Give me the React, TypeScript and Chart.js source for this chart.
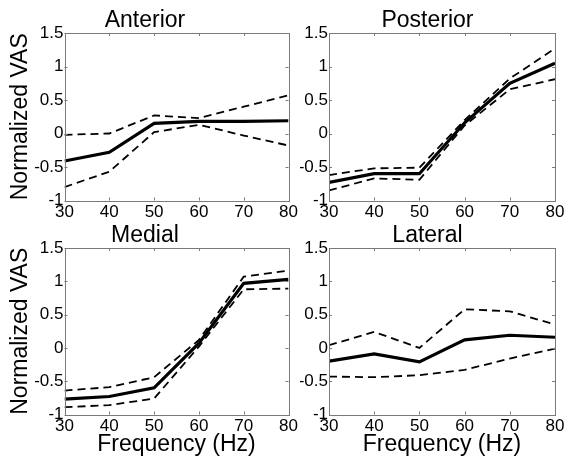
import React, { useEffect, useRef } from "react";
import { Chart, registerables } from "chart.js";
Chart.register(...registerables);

const frequencies = [30, 40, 50, 60, 70, 80];
const yTicks = [-1, -0.5, 0, 0.5, 1, 1.5];
const xTicks = [30, 40, 50, 60, 70, 80];

const anteriorMean = [-0.41, -0.28, 0.15, 0.18, 0.18, 0.19];
const anteriorUpper = [-0.02, 0.0, 0.27, 0.23, 0.4, 0.57];
const anteriorLower = [-0.8, -0.57, 0.02, 0.13, -0.03, -0.18];

const posteriorMean = [-0.73, -0.6, -0.6, 0.16, 0.75, 1.05];
const posteriorUpper = [-0.62, -0.52, -0.51, 0.2, 0.82, 1.27];
const posteriorLower = [-0.85, -0.67, -0.69, 0.12, 0.66, 0.81];

const medialMean = [-0.77, -0.73, -0.6, 0.07, 0.97, 1.03];
const medialUpper = [-0.64, -0.59, -0.44, 0.12, 1.07, 1.16];
const medialLower = [-0.89, -0.86, -0.76, 0.02, 0.88, 0.89];

const lateralMean = [-0.2, -0.09, -0.21, 0.12, 0.19, 0.16];
const lateralUpper = [0.04, 0.24, 0.0, 0.58, 0.55, 0.35];
const lateralLower = [-0.43, -0.44, -0.41, -0.33, -0.16, -0.01];

const FONT = "'Liberation Sans', Arial, sans-serif";

const boxPlugin = {
  id: "matlabBox",
  afterDatasetsDraw(chart: any) {
    const { ctx, chartArea, scales } = chart;
    const { left, right, top, bottom } = chartArea;
    ctx.save();
    ctx.strokeStyle = "#7a7a7a";
    ctx.lineWidth = 1;
    ctx.beginPath();
    const tl = 3;
    xTicks.forEach((v) => {
      const x = Math.round(scales.x.getPixelForValue(v)) + 0.5;
      ctx.moveTo(x, bottom);
      ctx.lineTo(x, bottom - tl);
      ctx.moveTo(x, top);
      ctx.lineTo(x, top + tl);
    });
    yTicks.forEach((v) => {
      const y = Math.round(scales.y.getPixelForValue(v)) + 0.5;
      ctx.moveTo(left, y);
      ctx.lineTo(left + tl, y);
      ctx.moveTo(right, y);
      ctx.lineTo(right - tl, y);
    });
    ctx.stroke();
    ctx.strokeRect(Math.round(left) + 0.5, Math.round(top) + 0.5, Math.round(right - left), Math.round(bottom - top));
    ctx.restore();
  },
};

type PanelProps = {
  title: string;
  mean: number[];
  upper: number[];
  lower: number[];
  left: number;
  top: number;
  width: number;
  height: number;
  yAxisWidth: number;
  xAxisHeight: number;
  padRight: number;
  showYTitle: boolean;
  showXTitle: boolean;
};

function Panel(p: PanelProps) {
  const ref = useRef<HTMLCanvasElement>(null);
  useEffect(() => {
    if (!ref.current) return;
    const dashed = (data: number[]) => ({
      data: frequencies.map((f, i) => ({ x: f, y: data[i] })),
      borderColor: "#000",
      borderWidth: 1.8,
      borderDash: [8, 5],
      pointRadius: 0,
      tension: 0,
      fill: false,
    });
    const chart = new Chart(ref.current, {
      type: "line",
      data: {
        datasets: [
          dashed(p.upper),
          dashed(p.lower),
          {
            data: frequencies.map((f, i) => ({ x: f, y: p.mean[i] })),
            borderColor: "#000",
            borderWidth: 3.2,
            pointRadius: 0,
            tension: 0,
            fill: false,
          },
        ],
      },
      options: {
        animation: false,
        responsive: false,
        maintainAspectRatio: false,
        layout: { padding: { left: 0, right: p.padRight, top: 0, bottom: 0 } },
        plugins: {
          legend: { display: false },
          tooltip: { enabled: false },
          title: {
            display: true,
            text: p.title,
            color: "#000",
            font: { family: FONT, size: 23, weight: "normal", lineHeight: 1 },
            padding: { top: 9, bottom: 1 },
          },
        },
        scales: {
          x: {
            type: "linear",
            min: 30,
            max: 80,
            afterFit: (s: any) => {
              s.height = p.xAxisHeight;
            },
            afterBuildTicks: (s: any) => {
              s.ticks = xTicks.map((v) => ({ value: v }));
            },
            grid: { display: false, drawTicks: false },
            border: { display: false },
            ticks: {
              color: "#000",
              font: { family: FONT, size: 17 },
              padding: 2,
              maxRotation: 0,
              autoSkip: false,
              callback: (v: any) => String(v),
            },
            title: {
              display: p.showXTitle,
              text: "Frequency (Hz)",
              color: "#000",
              font: { family: FONT, size: 23, lineHeight: 1 },
              padding: { top: 0, bottom: 4 },
            },
          },
          y: {
            type: "linear",
            min: -1,
            max: 1.5,
            afterFit: (s: any) => {
              s.width = p.yAxisWidth;
            },
            afterBuildTicks: (s: any) => {
              s.ticks = yTicks.map((v) => ({ value: v }));
            },
            grid: { display: false, drawTicks: false },
            border: { display: false },
            ticks: {
              color: "#000",
              font: { family: FONT, size: 17 },
              padding: 1,
              autoSkip: false,
              callback: (v: any) => String(v),
            },
            title: {
              display: p.showYTitle,
              text: "Normalized VAS",
              color: "#000",
              font: { family: FONT, size: 23, lineHeight: 1 },
              padding: { top: 9, bottom: 0 },
            },
          },
        },
      },
      plugins: [boxPlugin],
    } as any);
    return () => chart.destroy();
  }, []);
  return (
    <canvas
      ref={ref}
      width={p.width}
      height={p.height}
      style={{ position: "absolute", left: p.left, top: p.top, width: p.width, height: p.height }}
    />
  );
}

export default function App() {
  return (
    <div style={{ position: "fixed", left: 0, top: 0, width: 569, height: 460, background: "#fff", overflow: "hidden" }}>
      <Panel title="Anterior" mean={anteriorMean} upper={anteriorUpper} lower={anteriorLower}
        left={0} top={0} width={300} height={230} yAxisWidth={64.5} xAxisHeight={29.5} padRight={10}
        showYTitle={true} showXTitle={false} />
      <Panel title="Posterior" mean={posteriorMean} upper={posteriorUpper} lower={posteriorLower}
        left={300} top={0} width={269} height={230} yAxisWidth={29} xAxisHeight={29.5} padRight={14}
        showYTitle={false} showXTitle={false} />
      <Panel title="Medial" mean={medialMean} upper={medialUpper} lower={medialLower}
        left={0} top={215} width={300} height={245} yAxisWidth={64.5} xAxisHeight={45.5} padRight={10}
        showYTitle={true} showXTitle={true} />
      <Panel title="Lateral" mean={lateralMean} upper={lateralUpper} lower={lateralLower}
        left={300} top={215} width={269} height={245} yAxisWidth={29} xAxisHeight={45.5} padRight={14}
        showYTitle={false} showXTitle={true} />
    </div>
  );
}
